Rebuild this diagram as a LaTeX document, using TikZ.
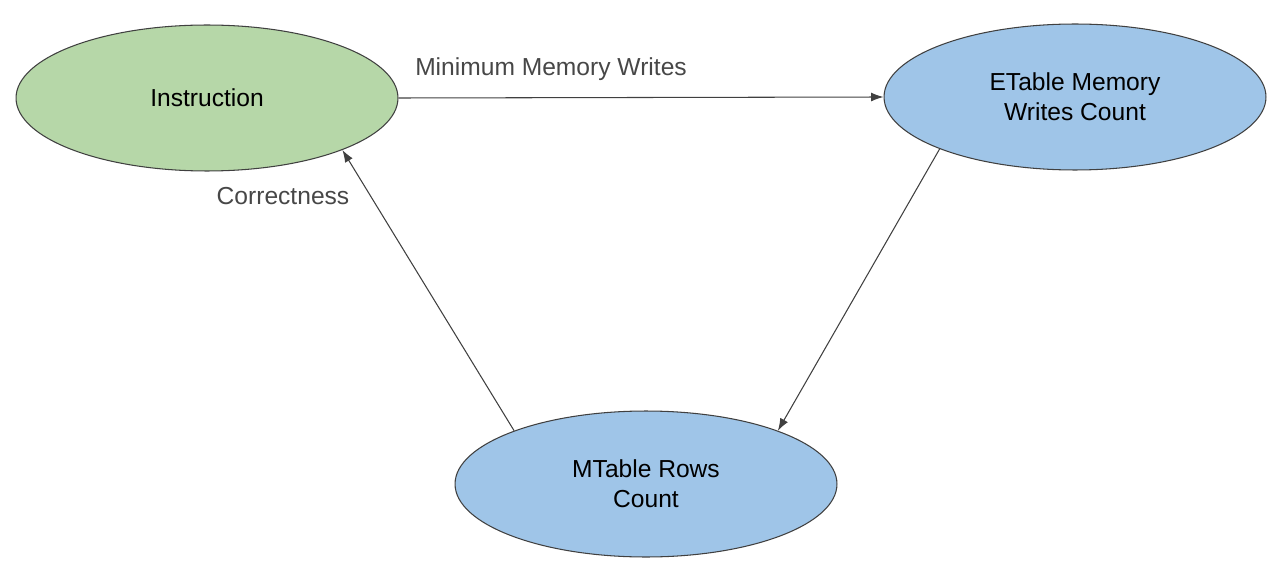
\documentclass[tikz,border=0pt]{standalone}
\usepackage{fontspec}
\setmainfont{Liberation Sans}
\usetikzlibrary{shapes.geometric,arrows.meta}
\begin{document}
\begin{tikzpicture}[x=0.02cm,y=-0.02cm,
  ell/.style={ellipse,draw=black!75,line width=0.6pt,minimum width=7.64cm,minimum height=2.92cm,align=center,font=\fontsize{14}{17}\selectfont,inner sep=0pt},
  arr/.style={draw=black!75,line width=0.6pt,-{Latex[length=7pt,width=5pt]}},
  lbl/.style={text=black!72,font=\fontsize{14}{17}\selectfont}]
\useasboundingbox (0,0) rectangle (1280,564);
\node[ell,fill={rgb,255:red,182;green,215;blue,168}] (ins) at (207,98) {Instruction};
\node[ell,fill={rgb,255:red,159;green,197;blue,232}] (et) at (1075,97) {ETable Memory\\Writes Count};
\node[ell,fill={rgb,255:red,159;green,197;blue,232}] (mt) at (646,484) {MTable Rows\\Count};
\draw[arr] (ins.east) -- (et.west);
\draw[arr] (et.201) -- (mt.22);
\draw[arr] (mt.158) -- (ins.-21);
\node[lbl] (l1) at (551,69) {Minimum Memory Writes};
\node[lbl] (l2) at (283,196) {Correctness};
\end{tikzpicture}
\end{document}
